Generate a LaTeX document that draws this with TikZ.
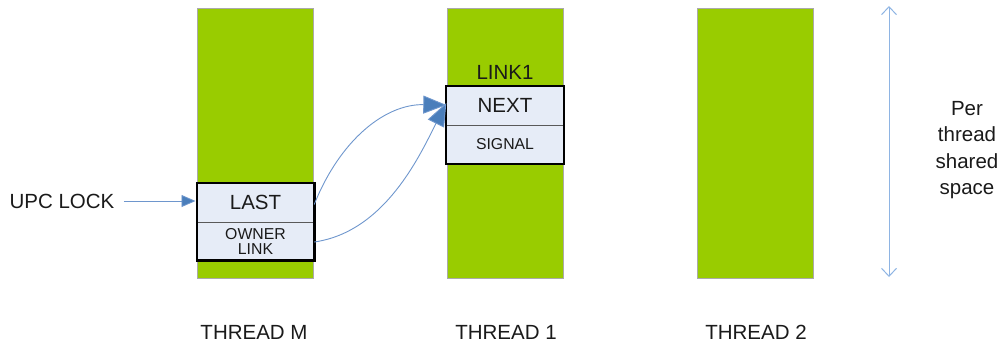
\documentclass[tikz,border=0pt]{standalone}
\usepackage{fontspec}
\setmainfont{Liberation Sans}
\usetikzlibrary{arrows.meta}
\definecolor{bargreen}{RGB}{153,204,0}
\definecolor{baredge}{RGB}{170,170,170}
\definecolor{boxfill}{RGB}{230,236,247}
\definecolor{arrowblue}{RGB}{74,126,187}
\definecolor{lineblue}{RGB}{110,150,205}
\definecolor{lightblue}{RGB}{142,180,227}
\definecolor{txt}{RGB}{26,26,26}
\tikzset{
  big/.style={font=\fontsize{20.5}{26.5}\selectfont, text=txt},
  small/.style={font=\fontsize{15.8}{21}\selectfont, text=txt},
  tight/.style={font=\fontsize{15.8}{16}\selectfont, text=txt},
  bar/.style={draw=baredge, line width=0.8pt, fill=bargreen, minimum width=116pt, minimum height=270pt, inner sep=0pt},
  half/.style={fill=boxfill, minimum width=117pt, inner sep=0pt, align=center},
  outline/.style={draw=black, line width=2.6pt},
  divider/.style={draw=black!65, line width=1pt},
  link/.style={draw=lineblue, line width=0.9pt, -{Triangle[length=23pt,width=18pt,fill=arrowblue]}, shorten >=0pt},
}
\begin{document}
\begin{tikzpicture}[x=1pt,y=-1pt]
\useasboundingbox (0,0) rectangle (1001,346);
% thread columns
\node[bar] (colM) at (255,143) {};
\node[bar] (col1) at (505,143) {};
\node[bar] (col2) at (755,143) {};
% LAST / OWNER LINK box
\node[half, big, minimum height=39pt] (last) at (255.5,202.5) {LAST};
\node[half, tight, minimum height=38pt] (owner) at (255.5,241) {OWNER\\[-1pt]LINK};
\draw[divider] (last.south west) -- (last.south east);
\draw[outline] (last.north west) rectangle (owner.south east);
% NEXT / SIGNAL box
\node[half, big, minimum height=39pt] (next) at (505,105.5) {NEXT};
\node[half, small, minimum height=39pt] (signal) at (505,144.5) {SIGNAL};
\draw[divider] (next.south west) -- (next.south east);
\draw[outline, line width=2pt] (next.north west) rectangle (signal.south east);
\node[big] (link1) at (505,72) {LINK1};
% UPC LOCK
\node[big] (upc) at (62,201) {UPC LOCK};
\coordinate (upcend) at (195.5,201);
\draw[draw=lineblue, line width=0.8pt, -{Triangle[length=14pt,width=12pt,fill=arrowblue]}] (upc.east) ++(6,0) -- (upcend);
% links
\draw[link] ([yshift=-2pt]last.east) .. controls (340,140) and (385,104) .. ([yshift=0.5pt]next.west);
\draw[link] ([yshift=-1pt]owner.east) .. controls (385,232) and (420,155) .. ([yshift=2.5pt]next.west);
% per-thread space arrow
\coordinate (sptop) at (889,6);
\coordinate (spbot) at (889,277);
\draw[draw=lightblue, line width=1pt, {Straight Barb[length=8pt,width=15pt]}-{Straight Barb[length=8pt,width=15pt]}] (sptop) -- (spbot);
\node[big, align=center] (per) at (967,150) {Per\\thread\\shared\\space};
% thread labels
\node[big] (lblM) at (254,332) {THREAD M};
\node[big] (lbl1) at (506,332) {THREAD 1};
\node[big] (lbl2) at (756,332) {THREAD 2};
\end{tikzpicture}
\end{document}
